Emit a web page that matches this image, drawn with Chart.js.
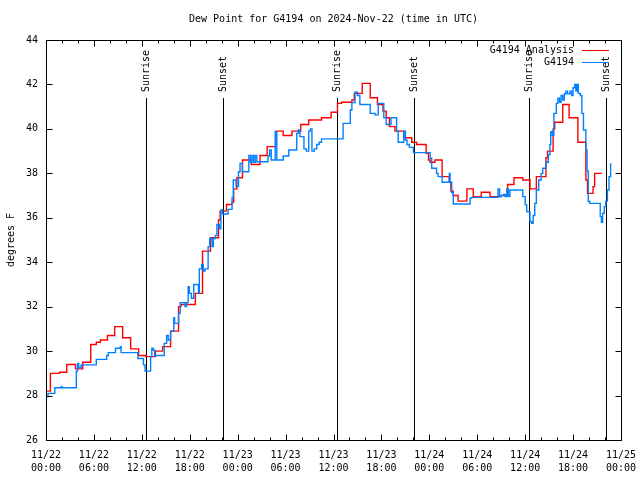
<!DOCTYPE html>
<html>
<head>
<meta charset="utf-8">
<title>Dew Point for G4194</title>
<script src="https://cdn.jsdelivr.net/npm/chart.js@4.4.1/dist/chart.umd.min.js"></script>
<style>
  html, body { margin: 0; padding: 0; background: #fff; }
  #dewChart { display: block; }
</style>
</head>
<body>
<canvas id="dewChart" width="640" height="480"></canvas>
<script>
const FONT = '"DejaVu Sans Mono", "Liberation Mono", monospace';
const TITLE = 'Dew Point for G4194 on 2024-Nov-22 (time in UTC)';

// [hours since 11/22 00:00 UTC, dew point F]
const analysisPoints = [
    [0, 28.2], [0.55, 29.0], [1.7, 29.05], [2.6, 29.4], [3.7, 29.2], [4.6, 29.5],
    [5.6, 30.3], [6.3, 30.4], [6.8, 30.5], [7.7, 30.7], [8.6, 31.1], [9.6, 30.6],
    [10.6, 30.1], [11.6, 29.8], [12.5, 29.75], [13.7, 30.0], [14.6, 30.2], [15.6, 30.9],
    [16.6, 32.0], [16.9, 32.1], [18.7, 32.6], [19.6, 34.5], [20.6, 35.1], [21.6, 35.9],
    [21.8, 36.3], [22.6, 36.6], [23.3, 36.7], [23.5, 37.3], [23.9, 37.8], [24.6, 38.6],
    [25.7, 38.4], [26.8, 38.8], [27.7, 39.2], [28.8, 39.9], [29.7, 39.7], [30.8, 39.9],
    [31.9, 40.2], [32.9, 40.4], [34.5, 40.5], [35.7, 40.75], [36.5, 41.15], [37.0, 41.2],
    [38.3, 41.3], [38.6, 41.6], [39.6, 42.05], [40.6, 41.4], [41.5, 41.1], [42.2, 40.8],
    [42.6, 40.5], [43.0, 40.1], [43.7, 39.9], [44.8, 39.6], [45.8, 39.4], [46.4, 39.3],
    [47.6, 38.9], [47.9, 38.6], [48.1, 38.5], [48.7, 38.6], [49.6, 37.85], [50.5, 37.6],
    [50.7, 37.2], [51.0, 37.0], [51.6, 36.75], [52.7, 37.3], [53.5, 36.95], [54.5, 37.15],
    [55.6, 36.95], [57.0, 37.0], [57.8, 37.5], [58.6, 37.8], [59.7, 37.7], [60.6, 37.3],
    [61.4, 37.85], [62.6, 38.7], [62.8, 39.0], [63.5, 40.0], [63.7, 40.3], [64.7, 41.1],
    [65.5, 40.5], [66.6, 39.4], [67.6, 37.7], [67.8, 37.1], [68.5, 37.4], [68.7, 38.0],
    [69.6, 38.0]
];

const obsPoints = [
    [0, 27.95], [0.25, 28.1], [1.1, 28.35], [1.9, 28.4], [2.0, 28.35], [3.8, 29.1],
    [3.95, 29.45], [4.1, 29.25], [4.4, 29.38], [6.3, 29.63], [7.6, 29.8], [7.8, 29.93],
    [8.7, 30.13], [9.3, 30.2], [9.4, 29.93], [11.5, 29.67], [12.2, 29.38], [12.4, 29.1],
    [13.1, 29.75], [13.25, 30.13], [13.4, 30.05], [13.6, 29.8], [14.8, 30.35], [15.1, 30.7],
    [15.3, 30.5], [15.6, 30.9], [16.0, 31.5], [16.1, 31.25], [16.6, 31.7], [16.8, 32.18],
    [17.4, 32.0], [17.6, 32.18], [17.8, 32.9], [17.95, 32.6], [18.2, 32.38], [18.5, 33.0],
    [19.1, 32.6], [19.2, 33.7], [19.5, 33.9], [19.7, 33.6], [19.9, 33.7], [20.3, 34.7],
    [20.5, 35.07], [20.8, 34.7], [20.95, 35.07], [21.2, 35.2], [21.4, 35.7], [21.7, 35.5],
    [21.9, 36.35], [22.1, 36.17], [22.8, 36.38], [23.3, 36.92], [23.45, 37.7], [23.8, 37.4],
    [24.1, 38.07], [24.3, 38.45], [24.6, 38.07], [25.4, 38.8], [25.6, 38.5], [25.8, 38.8],
    [26.0, 38.5], [26.2, 38.8], [26.4, 38.52], [27.8, 38.78], [28.0, 39.05], [28.2, 38.6],
    [28.7, 39.87], [28.9, 38.6], [29.7, 38.78], [30.4, 39.05], [31.4, 39.8], [31.6, 39.95],
    [31.8, 39.65], [32.3, 39.1], [32.6, 39.0], [32.9, 39.9], [33.1, 40.0], [33.3, 39.0],
    [33.6, 39.1], [33.9, 39.3], [34.2, 39.4], [34.5, 39.55], [37.2, 40.25], [38.1, 40.85],
    [38.3, 41.18], [38.7, 41.65], [39.0, 41.5], [39.3, 41.1], [40.6, 40.7], [41.2, 40.63],
    [41.6, 41.15], [42.3, 40.5], [42.6, 40.2], [43.2, 40.5], [43.9, 39.9], [44.1, 39.4],
    [44.8, 39.9], [45.0, 39.5], [45.2, 39.3], [45.5, 39.17], [46.0, 38.93], [48.1, 38.68],
    [48.3, 38.23], [48.9, 38.0], [49.1, 37.85], [49.6, 37.6], [50.5, 38.0], [50.6, 37.6],
    [50.8, 37.13], [51.0, 36.62], [53.1, 36.88], [53.3, 36.92], [56.6, 37.3], [56.8, 36.95],
    [57.0, 37.0], [57.3, 37.05], [57.5, 36.95], [57.7, 37.3], [57.9, 36.95], [58.1, 37.25],
    [59.7, 36.95], [60.0, 36.58], [60.2, 36.27], [60.6, 35.83], [60.8, 35.75], [61.0, 36.1],
    [61.2, 36.65], [61.4, 37.25], [61.7, 37.7], [62.0, 38.0], [62.2, 38.23], [62.6, 38.5],
    [62.9, 38.83], [63.1, 39.3], [63.2, 39.87], [63.4, 39.7], [63.6, 40.7], [63.9, 41.15],
    [64.1, 41.38], [64.3, 41.2], [64.5, 41.5], [64.7, 41.3], [64.9, 41.58], [65.1, 41.7],
    [65.3, 41.58], [65.6, 41.7], [65.8, 41.5], [66.0, 41.85], [66.2, 42.0], [66.35, 41.7],
    [66.5, 42.0], [66.65, 41.6], [66.9, 41.5], [67.1, 40.7], [67.3, 39.95], [67.6, 39.05],
    [67.75, 38.1], [67.9, 36.73], [68.1, 36.65], [69.4, 36.05], [69.55, 35.8], [69.7, 36.2],
    [69.9, 36.5], [70.1, 36.75], [70.3, 37.25], [70.5, 37.85], [70.7, 38.45]
];

const xTickLabels = [
    ['11/22', '00:00'], ['11/22', '06:00'], ['11/22', '12:00'], ['11/22', '18:00'],
    ['11/23', '00:00'], ['11/23', '06:00'], ['11/23', '12:00'], ['11/23', '18:00'],
    ['11/24', '00:00'], ['11/24', '06:00'], ['11/24', '12:00'], ['11/24', '18:00'],
    ['11/25', '00:00']
];

const sunHours = [12.48, 22.18, 36.48, 46.1, 60.5, 70.15];
const sunLabels = ['Sunrise', 'Sunset', 'Sunrise', 'Sunset', 'Sunrise', 'Sunset'];

// gnuplot-like frame: title over the plot, inward ticks, sunrise/sunset markers, key
const gnuplotFrame = {
    id: 'gnuplotFrame',
    beforeDatasetsDraw(chart) {
        const { ctx, chartArea: a, scales: { x } } = chart;
        ctx.save();
        ctx.strokeStyle = '#000';
        ctx.fillStyle = '#000';
        ctx.lineWidth = 1;
        ctx.font = '10px ' + FONT;

        ctx.textAlign = 'center';
        ctx.textBaseline = 'middle';
        ctx.fillText(TITLE, (a.left + a.right) / 2, 19);

        sunHours.forEach((h, i) => {
            const px = Math.round(x.getPixelForValue(h)) + 0.5;
            ctx.beginPath();
            ctx.moveTo(px, a.bottom);
            ctx.lineTo(px, a.top + 58);
            ctx.stroke();
            ctx.save();
            ctx.translate(px, a.top + 52);
            ctx.rotate(-Math.PI / 2);
            ctx.textAlign = 'left';
            ctx.textBaseline = 'middle';
            ctx.fillText(sunLabels[i], 0, 0);
            ctx.restore();
        });
        ctx.restore();
    },
    afterDatasetsDraw(chart) {
        const { ctx, chartArea: a, scales: { x, y } } = chart;
        ctx.save();
        ctx.strokeStyle = '#000';
        ctx.lineWidth = 1;
        const l = Math.round(a.left) + 0.5, r = Math.round(a.right) + 0.5;
        const t = Math.round(a.top) + 0.5, b = Math.round(a.bottom) + 0.5;
        ctx.strokeRect(l, t, r - l, b - t);

        ctx.beginPath();
        for (let h = 0; h <= 72; h += 2) {
            const px = Math.round(x.getPixelForValue(h)) + 0.5;
            const len = h % 6 === 0 ? 6 : 3;
            ctx.moveTo(px, b); ctx.lineTo(px, b - len);
            ctx.moveTo(px, t); ctx.lineTo(px, t + len);
        }
        for (let v = 26; v <= 44; v += 2) {
            const py = Math.round(y.getPixelForValue(v)) + 0.5;
            ctx.moveTo(l, py); ctx.lineTo(l + 6, py);
            ctx.moveTo(r, py); ctx.lineTo(r - 6, py);
        }
        ctx.stroke();

        // key
        ctx.font = '10px ' + FONT;
        ctx.fillStyle = '#000';
        ctx.textAlign = 'right';
        ctx.textBaseline = 'middle';
        chart.data.datasets.forEach((ds, i) => {
            const ky = Math.round(a.top + 10 + i * 12);
            ctx.fillText(ds.label, a.right - 47, ky);
            ctx.strokeStyle = ds.borderColor;
            ctx.beginPath();
            ctx.moveTo(a.right - 39, ky + 0.5);
            ctx.lineTo(a.right - 12, ky + 0.5);
            ctx.stroke();
        });
        ctx.restore();
    }
};

const ctx = document.getElementById('dewChart').getContext('2d');
new Chart(ctx, {
    type: 'line',
    data: {
        datasets: [{
            label: 'G4194 Analysis',
            data: analysisPoints.map(p => ({ x: p[0], y: p[1] })),
            borderColor: '#ff0000',
            borderWidth: 1.4,
            pointRadius: 0,
            stepped: true,
            order: 2
        }, {
            label: 'G4194',
            data: obsPoints.map(p => ({ x: p[0], y: p[1] })),
            borderColor: '#0080ff',
            borderWidth: 1.4,
            pointRadius: 0,
            stepped: true,
            order: 1
        }]
    },
    options: {
        responsive: false,
        animation: false,
        layout: { padding: { left: 0, right: 19, top: 40, bottom: 0 } },
        plugins: {
            legend: { display: false },
            tooltip: { enabled: false },
            title: { display: false }
        },
        scales: {
            x: {
                type: 'linear',
                min: 0,
                max: 72,
                grid: { display: false, drawTicks: false },
                border: { display: false },
                afterFit: scale => {
                    scale.height = 40;
                    scale.paddingLeft = 0;
                    scale.paddingRight = 0;
                },
                ticks: {
                    stepSize: 6,
                    autoSkip: false,
                    maxRotation: 0,
                    padding: 9,
                    color: '#000',
                    font: { family: FONT, size: 10, lineHeight: 1.3 },
                    callback: v => xTickLabels[Math.round(v / 6)]
                }
            },
            y: {
                min: 26,
                max: 44,
                grid: { display: false, drawTicks: false },
                border: { display: false },
                afterFit: scale => {
                    scale.width = 46;
                    scale.paddingTop = 0;
                    scale.paddingBottom = 0;
                },
                ticks: {
                    stepSize: 2,
                    padding: 8,
                    color: '#000',
                    font: { family: FONT, size: 10 }
                },
                title: {
                    display: true,
                    text: 'degrees F',
                    color: '#000',
                    font: { family: FONT, size: 10, lineHeight: 1.2 },
                    padding: { top: 5, bottom: 0 }
                }
            }
        }
    },
    plugins: [gnuplotFrame]
});
</script>
</body>
</html>
